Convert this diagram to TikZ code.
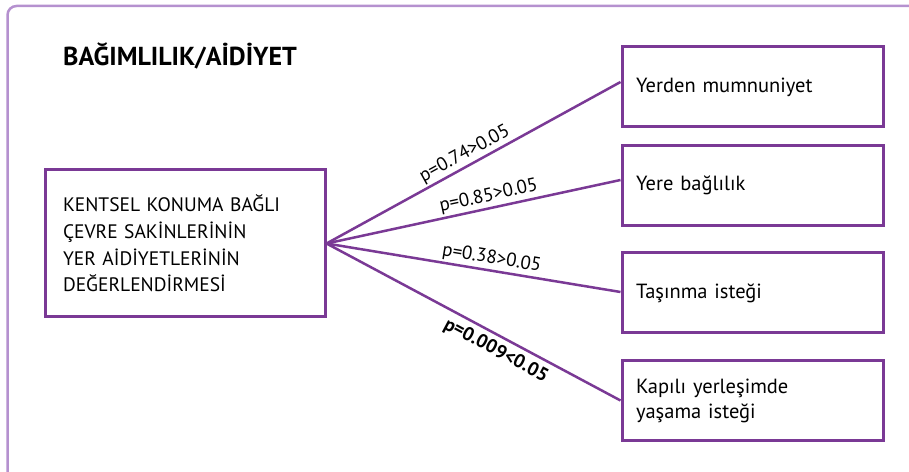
\documentclass[tikz,border=0pt]{standalone}
\usepackage{fontspec}
\setmainfont{PT Sans}
\definecolor{framelila}{HTML}{B591CF}
\definecolor{plum}{HTML}{7A3995}
\tikzset{
  box/.style={draw=plum, line width=3pt, minimum width=261pt, minimum height=80pt,
    text width=233pt, align=left, inner xsep=14pt, font=\fontsize{20.5}{25}\selectfont},
  link/.style={draw=plum, line width=2.5pt},
  pval/.style={font=\fontsize{19}{22}\selectfont, sloped, inner sep=2pt}
}
\begin{document}
\begin{tikzpicture}[x=1pt, y=1pt]
  \clip (0,0) rectangle (909,471);
  \useasboundingbox (0,0) rectangle (909,471);
  \draw [framelila, line width=2.5pt, rounded corners=9pt] (7.5,-30) rectangle (940,465);
  \node [anchor=base west, inner sep=0pt, font=\bfseries\fontsize{26}{30}\selectfont] (baslik) at (63,405) {BAĞIMLILIK/AİDİYET};
  \node [box, minimum width=280pt, minimum height=147pt, text width=244pt, inner xsep=18pt,
    font=\fontsize{19.5}{26.7}\selectfont] (aidiyet) at (185,227.5)
    {KENTSEL KONUMA BAĞLI\\ÇEVRE SAKİNLERİNİN\\YER AİDİYETLERİNİN\\DEĞERLENDİRMESİ};
  \node [box] (memnuniyet) at (752.5,384)   {Yerden mumnuniyet};
  \node [box] (baglilik)   at (752.5,285.5) {Yere bağlılık};
  \node [box] (tasinma)    at (752.5,178)   {Taşınma isteği};
  \node [box] (kapili)     at (752.5,70.5)  {Kapılı yerleşimde\\yaşama isteği};
  \draw [link] (aidiyet.east) -- node [pval, pos=0.49, above] {p=0.74>0.05} ([yshift=5pt]memnuniyet.west);
  \draw [link] (aidiyet.east) -- node [pval, pos=0.56, above] {p=0.85>0.05} ([yshift=5.5pt]baglilik.west);
  \draw [link] (aidiyet.east) -- node [pval, pos=0.555, above] {p=0.38>0.05} ([yshift=1pt]tasinma.west);
  \draw [link] (aidiyet.east) -- node [pval, pos=0.6, below, inner sep=5pt, font=\bfseries\fontsize{19}{22}\selectfont] {p=0.009<0.05} (kapili.west);
\end{tikzpicture}
\end{document}
